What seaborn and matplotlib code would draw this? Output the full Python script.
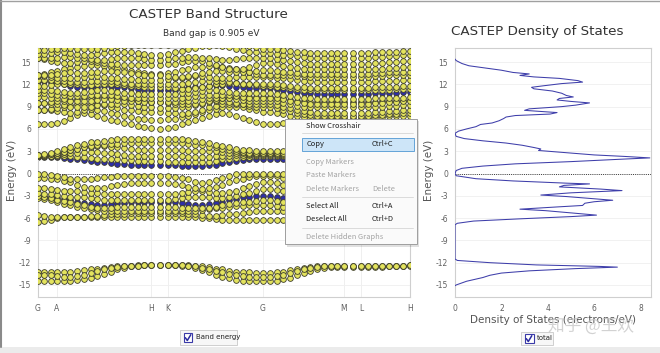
import numpy as np
import pandas as pd
import matplotlib
matplotlib.use("Agg")
import matplotlib.pyplot as plt
from matplotlib.patches import Rectangle
from matplotlib.lines import Line2D
import seaborn as sns

# ---- k-path ----
kpath_labels = ["G", "A", "H", "K", "G", "M", "L", "H"]
kpath_dist = [0, 19, 113, 130, 225, 306, 323, 372]
kpath_npts = [3, 14, 2, 14, 12, 2, 7]   # intervals per segment

# ---- bands (eV), 55 k-points each ----
lo1 = [-13.2,-13.2,-13.3,-13.3, -13.3,-13.2,-13.1,-13.0,-12.9,-12.8,-12.7,-12.6,-12.5,-12.4,-12.4,-12.3,-12.3,-12.3, -12.3,-12.3,
       -12.3,-12.3,-12.3,-12.4,-12.5,-12.6,-12.8,-12.9,-13.1,-13.2,-13.3,-13.3,-13.4,-13.4, -13.4,-13.3,-13.2,-13.0,-12.9,-12.7,-12.6,-12.5,-12.5,-12.4,-12.4,-12.4, -12.4,-12.5, -12.5,-12.5,-12.5,-12.4,-12.4,-12.4,-12.3]
lo2 = [-14.5,-14.5,-14.5,-14.5, -14.5,-14.4,-14.3,-14.2,-14.0,-13.8,-13.5,-13.2,-12.9,-12.7,-12.5,-12.4,-12.3,-12.3, -12.3,-12.3,
       -12.3,-12.4,-12.5,-12.7,-13.0,-13.3,-13.6,-13.9,-14.1,-14.3,-14.4,-14.5,-14.5,-14.5, -14.5,-14.4,-14.2,-14.0,-13.7,-13.4,-13.1,-12.9,-12.7,-12.6,-12.6,-12.6, -12.6,-12.6, -12.6,-12.6,-12.6,-12.5,-12.5,-12.4,-12.4]
lo3 = [-13.6,-13.6,-13.7,-13.8, -13.9,-13.9,-13.8,-13.6,-13.4,-13.1,-12.9,-12.7,-12.6,-12.5,-12.4,-12.4,-12.3,-12.3, -12.3,-12.3,
       -12.3,-12.3,-12.4,-12.5,-12.7,-12.9,-13.1,-13.3,-13.5,-13.7,-13.8,-13.9,-13.9,-13.9, -13.9,-13.8,-13.6,-13.4,-13.1,-12.9,-12.7,-12.6,-12.5,-12.5,-12.5,-12.5, -12.5,-12.5, -12.5,-12.5,-12.5,-12.4,-12.4,-12.4,-12.3]

vb1 = [-6.5,-6.4,-6.2,-6.0, -5.9,-5.9,-5.9,-5.9,-5.9,-5.9,-5.9,-5.9,-5.9,-5.9,-5.9,-5.9,-5.9,-5.9, -5.9,-5.9,
       -5.9,-5.9,-5.9,-5.9,-6.0,-6.0,-6.1,-6.2,-6.2,-6.3,-6.3,-6.3,-6.3,-6.3, -6.3,-6.3,-6.2,-6.2,-6.1,-6.0,-6.0,-6.0,-6.0,-6.0,-6.0,-6.0, -6.0,-6.0, -6.0,-6.0,-6.0,-6.0,-6.0,-6.0,-6.0]
vb2 = [-5.6,-5.7,-5.8,-5.9, -5.9,-5.9,-5.8,-5.8,-5.7,-5.7,-5.6,-5.5,-5.4,-5.4,-5.3,-5.3,-5.3,-5.3, -5.3,-5.3,
       -5.3,-5.3,-5.4,-5.5,-5.6,-5.7,-5.7,-5.6,-5.5,-5.4,-5.3,-5.2,-5.1,-5.0, -5.0,-5.0,-5.1,-5.2,-5.3,-5.4,-5.5,-5.6,-5.6,-5.6,-5.6,-5.6, -5.6,-5.6, -5.6,-5.6,-5.6,-5.6,-5.6,-5.6,-5.6]
vb3 = [-3.3,-3.4,-3.6,-3.8, -4.1,-4.3,-4.5,-4.7,-4.8,-4.9,-5.0,-5.0,-5.0,-5.0,-5.0,-5.0,-5.0,-5.0, -5.0,-5.0,
       -5.0,-5.0,-5.0,-5.0,-4.9,-4.8,-4.7,-4.6,-4.5,-4.4,-4.4,-4.3,-4.3,-4.3, -4.3,-4.4,-4.5,-4.7,-4.8,-4.9,-5.0,-5.0,-5.0,-5.0,-5.0,-5.0, -5.0,-5.0, -5.0,-5.0,-5.0,-5.0,-5.0,-5.0,-5.0]
vb4 = [-3.0,-3.1,-3.3,-3.5, -3.7,-3.9,-4.1,-4.3,-4.5,-4.6,-4.6,-4.6,-4.5,-4.5,-4.5,-4.5,-4.5,-4.5, -4.5,-4.5,
       -4.5,-4.6,-4.7,-4.7,-4.7,-4.6,-4.5,-4.3,-4.1,-4.0,-3.9,-3.8,-3.7,-3.6, -3.6,-3.7,-3.9,-4.1,-4.3,-4.5,-4.6,-4.7,-4.7,-4.7,-4.7,-4.7, -4.7,-4.7, -4.7,-4.6,-4.6,-4.6,-4.6,-4.6,-4.7]
vb5 = [-3.2,-3.2,-3.2,-3.3, -3.4,-3.6,-3.8,-4.0,-4.1,-4.2,-4.2,-4.1,-4.0,-4.0,-3.9,-3.9,-3.9,-3.9, -3.9,-3.9,
       -3.9,-4.0,-4.1,-4.2,-4.2,-4.1,-4.0,-3.8,-3.6,-3.4,-3.2,-3.1,-3.0,-3.0, -3.0,-3.1,-3.3,-3.5,-3.7,-3.9,-4.0,-4.1,-4.1,-4.1,-4.1,-4.1, -4.1,-4.1, -4.1,-4.0,-4.0,-3.9,-3.9,-4.0,-4.0]
vb6 = [-2.6,-2.7,-2.8,-2.9, -3.0,-3.1,-3.1,-3.2,-3.3,-3.4,-3.5,-3.5,-3.5,-3.5,-3.5,-3.5,-3.5,-3.5, -3.5,-3.5,
       -3.4,-3.3,-3.2,-3.1,-3.1,-3.2,-3.3,-3.3,-3.2,-3.0,-2.8,-2.6,-2.3,-2.1, -2.1,-2.2,-2.4,-2.6,-2.9,-3.1,-3.3,-3.4,-3.5,-3.5,-3.5,-3.5, -3.5,-3.5, -3.5,-3.4,-3.4,-3.3,-3.3,-3.4,-3.5]
vb7 = [-2.0,-2.0,-2.1,-2.2, -2.3,-2.3,-2.4,-2.5,-2.6,-2.6,-2.7,-2.7,-2.8,-2.8,-2.8,-2.8,-2.8,-2.8, -2.8,-2.8,
       -2.7,-2.6,-2.5,-2.4,-2.4,-2.5,-2.6,-2.6,-2.5,-2.3,-2.0,-1.7,-1.4,-1.2, -1.2,-1.3,-1.5,-1.8,-2.0,-2.2,-2.4,-2.6,-2.7,-2.8,-2.8,-2.8, -2.8,-2.8, -2.8,-2.8,-2.7,-2.7,-2.7,-2.8,-2.8]
vb8 = [-0.6,-0.6,-0.7,-0.8, -1.0,-1.2,-1.5,-1.8,-2.0,-2.0,-1.9,-1.7,-1.5,-1.4,-1.3,-1.3,-1.3,-1.3, -1.3,-1.3,
       -1.4,-1.6,-1.8,-2.0,-2.1,-2.0,-1.8,-1.5,-1.2,-0.9,-0.7,-0.5,-0.4,-0.3, -0.3,-0.4,-0.6,-0.8,-1.0,-1.2,-1.4,-1.6,-1.7,-1.8,-1.8,-1.8, -1.8,-1.8, -1.7,-1.6,-1.5,-1.4,-1.4,-1.3,-1.3]
vb9 = [0.0,-0.1,-0.2,-0.3, -0.5,-0.7,-0.8,-0.8,-0.7,-0.6,-0.5,-0.5,-0.4,-0.4,-0.4,-0.4,-0.4,-0.4, -0.4,-0.4,
       -0.5,-0.6,-0.8,-1.1,-1.3,-1.2,-0.9,-0.6,-0.3,-0.1,0.0,0.0,0.0,0.0, 0.0,0.0,0.0,-0.1,-0.2,-0.3,-0.4,-0.5,-0.6,-0.6,-0.7,-0.7, -0.7,-0.7, -0.6,-0.6,-0.5,-0.5,-0.5,-0.4,-0.4]

cb1 = [2.2,2.2,2.2,2.2, 2.1,2.0,1.9,1.8,1.7,1.6,1.5,1.4,1.3,1.3,1.2,1.2,1.2,1.2, 1.2,1.1,
       1.1,1.0,1.0,1.0,1.0,1.1,1.2,1.4,1.6,1.7,1.8,1.9,2.0,2.0, 2.0,2.0,2.0,2.0,2.0,2.0,2.0,2.0,2.0,2.0,2.0,2.0, 2.0,2.0, 2.0,2.0,2.0,2.0,2.0,2.0,2.0]
cb2 = [2.3,2.3,2.3,2.3, 2.3,2.3,2.2,2.2,2.1,2.0,2.0,1.9,1.9,1.8,1.8,1.7,1.7,1.7, 1.7,1.6,
       1.6,1.6,1.5,1.5,1.5,1.6,1.7,1.9,2.0,2.1,2.2,2.2,2.3,2.3, 2.3,2.3,2.3,2.3,2.3,2.3,2.3,2.3,2.3,2.3,2.3,2.3, 2.3,2.3, 2.3,2.3,2.3,2.3,2.3,2.3,2.3]
cb3 = [2.4,2.4,2.4,2.5, 2.6,2.7,2.8,2.9,2.9,2.9,2.8,2.7,2.6,2.5,2.4,2.3,2.3,2.3, 2.3,2.3,
       2.3,2.3,2.2,2.2,2.2,2.2,2.3,2.4,2.4,2.5,2.5,2.5,2.5,2.5, 2.5,2.5,2.5,2.5,2.5,2.5,2.5,2.5,2.5,2.5,2.5,2.5, 2.5,2.5, 2.5,2.5,2.5,2.5,2.5,2.5,2.5]
cb4 = [2.5,2.5,2.6,2.7, 2.9,3.1,3.3,3.5,3.6,3.7,3.7,3.6,3.5,3.4,3.3,3.2,3.1,3.1, 3.1,3.1,
       3.1,3.1,3.0,3.0,3.0,3.0,3.0,2.9,2.8,2.7,2.7,2.6,2.6,2.6, 2.6,2.6,2.6,2.6,2.6,2.6,2.6,2.6,2.6,2.6,2.6,2.6, 2.6,2.6, 2.6,2.6,2.6,2.6,2.6,2.6,2.6]
cb5 = [2.5,2.5,2.6,2.7, 2.9,3.1,3.3,3.5,3.7,3.8,3.9,4.0,4.0,4.1,4.1,4.1,4.1,4.1, 4.1,4.1,
       4.1,4.1,4.0,3.9,3.8,3.6,3.5,3.3,3.1,3.0,2.9,2.8,2.8,2.8, 2.8,2.8,2.8,2.8,2.8,2.8,2.8,2.8,2.8,2.8,2.8,2.8, 2.8,2.8, 2.8,2.8,2.8,2.8,2.8,2.8,2.8]
cb6 = [2.5,2.6,2.8,3.0, 3.3,3.6,3.8,4.0,4.2,4.3,4.4,4.5,4.6,4.6,4.6,4.6,4.6,4.6, 4.6,4.6,
       4.6,4.6,4.5,4.4,4.3,4.1,3.9,3.7,3.5,3.3,3.2,3.1,3.0,3.0, 3.0,3.0,3.0,3.0,3.0,3.0,3.0,3.0,3.0,3.0,3.0,3.0, 3.0,3.0, 3.0,3.0,3.0,3.0,3.0,3.0,3.0]

ub1 = [6.6,6.6,6.7,6.8, 7.1,7.5,7.9,8.1,8.0,7.8,7.5,7.2,7.0,6.8,6.6,6.4,6.2,6.1, 6.0,6.1,
       6.3,6.6,6.9,7.2,7.5,7.8,8.0,8.1,8.0,7.8,7.5,7.2,6.9,6.7, 6.7,6.7,6.8,6.9,7.0,7.0,7.0,7.0,7.0,7.0,7.0,7.0, 7.0,7.0, 7.0,7.0,7.0,6.9,6.9,6.8,6.8]
ub2 = [8.6,8.6,8.5,8.4, 8.3,8.2,8.3,8.5,8.7,8.6,8.4,8.2,8.0,7.8,7.6,7.4,7.3,7.2, 7.2,7.3,
       7.4,7.6,7.8,8.0,8.3,8.5,8.7,8.9,9.0,9.0,8.9,8.7,8.5,8.3, 8.3,8.2,8.0,7.8,7.7,7.6,7.5,7.5,7.5,7.5,7.5,7.5, 7.5,7.5, 7.5,7.6,7.6,7.7,7.7,7.8,7.8]
ub3 = [8.6,8.6,8.7,8.8, 9.0,9.2,9.3,9.4,9.4,9.3,9.2,9.0,8.8,8.6,8.5,8.4,8.3,8.3, 8.3,8.2,
       8.1,8.0,8.1,8.3,8.6,8.9,9.1,9.3,9.4,9.4,9.3,9.1,9.0,8.9, 8.9,8.8,8.6,8.4,8.2,8.0,7.9,7.8,7.8,7.8,7.8,7.8, 7.8,7.8, 7.8,7.9,7.9,8.0,8.0,8.1,8.1]
ub4 = [9.5,9.5,9.4,9.3, 9.2,9.0,8.9,8.9,9.0,9.2,9.3,9.4,9.4,9.3,9.2,9.1,9.0,8.9, 8.8,8.8,
       8.8,8.9,9.0,9.2,9.4,9.6,9.7,9.7,9.6,9.5,9.4,9.3,9.3,9.3, 9.3,9.2,9.0,8.8,8.6,8.4,8.3,8.2,8.2,8.2,8.2,8.2, 8.2,8.2, 8.2,8.3,8.3,8.4,8.4,8.5,8.5]
ub5 = [9.5,9.5,9.6,9.7, 9.8,9.9,10.0,10.1,10.2,10.3,10.3,10.2,10.1,10.0,9.9,9.8,9.7,9.6, 9.6,9.5,
       9.4,9.3,9.3,9.4,9.5,9.7,9.9,10.1,10.2,10.3,10.3,10.3,10.3,10.3, 10.3,10.2,10.1,9.9,9.8,9.7,9.6,9.6,9.6,9.6,9.6,9.6, 9.6,9.6, 9.6,9.6,9.7,9.7,9.8,9.8,9.9]
ub6 = [10.3,10.3,10.2,10.1, 10.0,9.8,9.7,9.7,9.8,9.9,10.0,10.0,9.9,9.8,9.7,9.7,9.6,9.6, 9.6,9.6,
       9.6,9.7,9.8,9.9,10.0,10.1,10.2,10.2,10.1,10.0,9.9,9.8,9.8,9.8, 9.8,9.7,9.5,9.3,9.1,9.0,8.9,8.9,8.9,8.9,8.9,8.9, 8.9,8.9, 8.9,9.0,9.0,9.1,9.1,9.2,9.2]
ub7 = [10.8,10.8,10.7,10.6, 10.5,10.4,10.4,10.4,10.5,10.6,10.6,10.5,10.4,10.3,10.2,10.2,10.1,10.1, 10.1,10.1,
       10.1,10.2,10.3,10.4,10.5,10.6,10.6,10.6,10.5,10.4,10.3,10.2,10.2,10.2, 10.2,10.1,10.0,9.8,9.6,9.5,9.4,9.4,9.4,9.4,9.4,9.4, 9.4,9.4, 9.4,9.5,9.5,9.6,9.6,9.7,9.7]
ub8 = [11.3,11.3,11.2,11.1, 11.0,10.9,10.9,11.0,11.1,11.2,11.2,11.1,11.0,10.9,10.8,10.7,10.7,10.7, 10.7,10.7,
       10.7,10.8,10.9,11.0,11.1,11.2,11.2,11.1,11.0,10.9,10.8,10.8,10.8,10.8, 10.8,10.7,10.6,10.4,10.3,10.2,10.1,10.0,10.0,10.0,10.0,10.0, 10.0,10.0, 10.0,10.1,10.1,10.2,10.2,10.2,10.3]
ub9 = [12.4,12.4,12.3,12.2, 12.0,11.8,11.7,11.6,11.6,11.7,11.8,11.8,11.7,11.6,11.5,11.4,11.3,11.3, 11.3,11.3,
       11.3,11.4,11.5,11.6,11.7,11.8,11.9,11.9,11.8,11.7,11.6,11.5,11.5,11.5, 11.5,11.4,11.2,11.1,11.0,10.9,10.8,10.7,10.7,10.7,10.7,10.7, 10.7,10.7, 10.7,10.8,10.8,10.9,10.9,11.0,11.0]
ub10 = [11.8,11.8,11.9,12.0, 12.1,12.1,12.0,11.9,11.9,12.0,12.1,12.1,12.0,11.9,11.8,11.8,11.7,11.7, 11.7,11.6,
        11.5,11.4,11.4,11.5,11.6,11.8,12.0,12.1,12.2,12.2,12.1,12.0,11.9,11.8, 11.8,11.7,11.6,11.5,11.4,11.3,11.2,11.2,11.2,11.2,11.2,11.2, 11.2,11.2, 11.2,11.3,11.3,11.3,11.4,11.4,11.4]
ub11 = [12.6,12.6,12.6,12.5, 12.4,12.3,12.3,12.3,12.4,12.5,12.5,12.4,12.3,12.2,12.1,12.0,12.0,12.0, 12.0,12.0,
        12.0,12.1,12.2,12.3,12.4,12.5,12.5,12.4,12.3,12.2,12.1,12.1,12.1,12.1, 12.1,12.0,11.9,11.8,11.7,11.6,11.5,11.5,11.5,11.5,11.5,11.5, 11.5,11.5, 11.5,11.6,11.6,11.7,11.7,11.8,11.8]
ub12 = [13.1,13.1,13.0,12.9, 12.8,12.8,12.9,13.0,13.1,13.1,13.0,12.9,12.8,12.7,12.7,12.6,12.6,12.6, 12.6,12.7,
        12.8,12.9,13.0,13.1,13.1,13.0,12.9,12.9,12.9,13.0,13.0,13.0,13.0,13.0, 13.0,12.9,12.8,12.7,12.6,12.5,12.4,12.3,12.3,12.3,12.3,12.3, 12.3,12.3, 12.3,12.4,12.4,12.5,12.5,12.6,12.6]
ub13 = [13.3,13.4,13.6,13.8, 14.0,14.2,14.4,14.5,14.6,14.6,14.5,14.4,14.2,14.0,13.8,13.6,13.5,13.4, 13.4,13.5,
        13.7,13.9,14.1,14.3,14.4,14.5,14.5,14.4,14.2,14.0,13.8,13.6,13.4,13.3, 13.3,13.3,13.2,13.2,13.1,13.1,13.0,13.0,13.0,13.0,13.0,13.0, 13.0,13.0, 13.0,13.1,13.1,13.2,13.2,13.3,13.3]
ub14 = [13.3,13.3,13.3,13.4, 13.5,13.6,13.5,13.5,13.6,13.7,13.8,13.8,13.7,13.6,13.5,13.4,13.3,13.2, 13.2,13.1,
        13.0,13.0,13.1,13.3,13.5,13.7,13.8,13.8,13.7,13.6,13.6,13.7,13.8,13.9, 13.9,13.8,13.7,13.6,13.5,13.4,13.4,13.4,13.4,13.4,13.4,13.4, 13.4,13.4, 13.4,13.5,13.5,13.6,13.6,13.7,13.7]
ub15 = [15.5,15.4,15.2,15.0, 14.9,14.9,15.0,15.1,15.1,15.0,14.9,14.8,14.7,14.6,14.6,14.6,14.6,14.6, 14.6,14.7,
        14.8,15.0,15.1,15.2,15.1,14.9,14.6,14.3,14.1,14.0,14.1,14.3,14.6,14.9, 14.9,14.7,14.5,14.3,14.2,14.1,14.0,14.0,14.0,14.0,14.0,14.0, 14.0,14.0, 14.0,14.1,14.1,14.2,14.2,14.3,14.3]
ub16 = [15.5,15.5,15.5,15.6, 15.7,15.7,15.6,15.5,15.4,15.3,15.3,15.4,15.5,15.6,15.6,15.5,15.4,15.3, 15.3,15.4,
        15.5,15.6,15.7,15.7,15.6,15.5,15.4,15.3,15.3,15.4,15.5,15.6,15.6,15.5, 15.5,15.4,15.3,15.1,15.0,14.9,14.8,14.8,14.8,14.8,14.8,14.8, 14.8,14.8, 14.8,14.9,14.9,15.0,15.0,15.1,15.1]
ub17 = [16.1,16.1,16.2,16.3, 16.3,16.2,16.1,16.0,16.0,16.1,16.2,16.3,16.4,16.4,16.3,16.2,16.1,16.0, 16.0,16.1,
        16.3,16.5,16.7,16.9,17.1,17.2,17.3,17.2,17.0,16.8,16.6,16.4,16.3,16.2, 16.2,16.1,16.0,15.9,15.8,15.7,15.6,15.6,15.6,15.6,15.6,15.6, 15.6,15.6, 15.6,15.7,15.7,15.8,15.8,15.9,15.9]
ub18 = [16.6,16.6,16.7,16.8, 16.9,16.9,16.8,16.7,16.7,16.8,16.9,17.0,17.1,17.2,17.3,17.3,17.3,17.3, 17.3,17.3,
        17.4,17.5,17.6,17.7,17.8,17.8,17.8,17.7,17.6,17.5,17.4,17.2,17.0,16.8, 16.8,16.7,16.6,16.5,16.4,16.3,16.2,16.2,16.2,16.2,16.2,16.2, 16.2,16.2, 16.2,16.3,16.3,16.4,16.4,16.5,16.5]

yellow_bands = [lo1, lo2, lo3, vb1, vb2, vb3, vb4, vb6, vb7, vb8, vb9, cb2, cb3, cb4, cb5, cb6,
                ub1, ub2, ub3, ub4, ub5, ub6, ub7, ub8, ub10, ub11, ub12, ub13, ub14, ub15, ub16, ub17, ub18]
blue_bands = [vb5, cb1, ub9]   # second set, drawn underneath

# ---- total DOS ----
dos_energy = [15.4, 15.2, 14.8, 14.5, 14.2, 13.9, 13.6, 13.4, 13.2, 13.0, 12.8, 12.5, 12.3, 12.1, 11.8,
              11.6, 11.4, 11.1, 10.8, 10.5, 10.3, 10.1, 9.9, 9.7, 9.5, 9.2, 9.0, 8.7, 8.5, 8.2,
              8.0, 7.8, 7.6, 7.4, 7.1, 6.8, 6.6, 6.3, 6.0, 5.7, 5.4, 5.0, 4.7, 4.4, 4.1,
              3.8, 3.5, 3.3, 3.1, 2.8, 2.5, 2.3, 2.1, 1.9, 1.6, 1.3, 1.0, 0.7, 0.4, 0.0,
              -0.3, -0.7, -1.0, -1.3, -1.4, -1.6, -1.8, -2.1, -2.3, -2.6, -2.9, -3.1, -3.3, -3.6, -3.8,
              -4.0, -4.3, -4.5, -4.8, -5.0, -5.3, -5.6, -5.8, -6.1, -6.4, -6.7, -6.9, -11.5, -11.7, -12.0,
              -12.3, -12.5, -12.6, -12.8, -13.1, -13.4, -13.7, -14.0, -14.5, -15.0, -15.1]
dos_total = [0.0, 0.05, 0.3, 0.6, 1.3, 2.0, 2.5, 3.2, 2.8, 3.4, 4.5, 5.3, 5.5, 4.6, 3.8,
             3.3, 3.4, 4.2, 4.6, 4.8, 5.1, 4.5, 4.4, 5.0, 5.8, 5.2, 4.6, 3.2, 3.0, 4.4,
             4.1, 2.6, 2.2, 2.1, 1.9, 1.6, 1.1, 0.9, 0.5, 0.15, 0.0, 0.05, 0.4, 1.2, 2.2,
             2.9, 3.4, 3.7, 3.6, 4.8, 6.0, 7.3, 8.4, 7.0, 5.0, 2.6, 1.2, 0.3, 0.05, 0.0,
             0.05, 0.9, 2.5, 4.8, 5.8, 4.7, 4.5, 6.3, 7.2, 5.0, 3.7, 4.8, 5.6, 6.8, 6.0,
             5.6, 5.5, 4.4, 2.8, 3.9, 5.0, 6.1, 5.0, 2.8, 0.8, 0.1, 0.0, 0.0, 0.1, 1.5,
             3.5, 6.2, 7.0, 5.2, 3.2, 2.0, 1.5, 1.2, 0.5, 0.05, 0.0]

energy_ticks = [-15, -12, -9, -6, -3, 0, 3, 6, 9, 12, 15]
dos_ticks = [0, 2, 4, 6, 8]

# k distance of every point along the path
k = [kpath_dist[0]]
for a, b, n in zip(kpath_dist[:-1], kpath_dist[1:], kpath_npts):
    k += list(np.linspace(a, b, n + 1)[1:])


def long_form(bands):
    frames = [pd.DataFrame({"k": k, "energy": b, "band": i}) for i, b in enumerate(bands)]
    return pd.concat(frames, ignore_index=True)


df_yellow = long_form(yellow_bands)
df_blue = long_form(blue_bands)

sns.set_style("white")
plt.rcParams["axes.unicode_minus"] = False
plt.rcParams["font.family"] = ["DejaVu Sans"]

W, H = 660, 353
fig = plt.figure(figsize=(W / 100, H / 100), dpi=100)


def fx(x):
    return x / W


def fy(y):
    return 1 - y / H


def rect(x0, y0, x1, y1, **kw):
    r = Rectangle((fx(x0), fy(y1)), (x1 - x0) / W, (y1 - y0) / H, transform=fig.transFigure, **kw)
    fig.add_artist(r)


def style_axes(ax):
    for s in ax.spines.values():
        s.set_color("#cfcfcf")
        s.set_linewidth(0.8)
    ax.tick_params(axis="both", labelsize=5.5, labelcolor="#606060", color="#cfcfcf")
    ax.tick_params(axis="y", length=2, width=0.6, pad=3)
    ax.tick_params(axis="x", length=0, pad=5)
    ax.set_yticks(energy_ticks)
    ax.set_ylim(-16.62, 16.89)
    ax.grid(True, axis="y", color="#efefef", lw=0.6)
    ax.set_xlabel("")
    ax.set_ylabel("")
    ax.axhline(0, color="#3c3c3c", lw=0.7, ls=(0, (1, 1.2)), zorder=2)


# ---- band structure ----
ax_bs = fig.add_axes([fx(38), fy(297), (410 - 38) / W, (297 - 48) / H])
sns.scatterplot(data=df_blue, x="k", y="energy", ax=ax_bs, s=17, color="#2e2ea6",
                edgecolor="#3d3d2a", linewidth=0.6, legend=False, zorder=2.5)
sns.scatterplot(data=df_yellow, x="k", y="energy", ax=ax_bs, s=17, color="#e3e35e",
                edgecolor="#3d3d2a", linewidth=0.6, legend=False, zorder=3)
style_axes(ax_bs)
ax_bs.set_xlim(kpath_dist[0], kpath_dist[-1])
ax_bs.set_xticks(kpath_dist, kpath_labels)
for kd in kpath_dist:
    ax_bs.axvline(kd, color="#ededed", lw=0.6, zorder=0)

# ---- DOS ----
ax_dos = fig.add_axes([fx(455), fy(297), (651 - 455) / W, (297 - 48) / H])
sns.lineplot(x=dos_total, y=dos_energy, sort=False, estimator=None, ax=ax_dos,
             color="#3e3eaa", linewidth=0.75, zorder=3)
style_axes(ax_dos)
ax_dos.set_xlim(0, 8.45)
ax_dos.set_xticks(dos_ticks)

# ---- titles and labels ----
fig.text(fx(208), fy(15), "CASTEP Band Structure", ha="center", va="center", fontsize=9.7, color="#333333")
fig.text(fx(211), fy(34), "Band gap is 0.905 eV", ha="center", va="center", fontsize=6.5, color="#333333")
fig.text(fx(537), fy(31), "CASTEP Density of States", ha="center", va="center", fontsize=9.7, color="#333333")
fig.text(fx(12), fy(170), "Energy (eV)", rotation=90, ha="center", va="center", fontsize=7.5, color="#555555")
fig.text(fx(429), fy(170), "Energy (eV)", rotation=90, ha="center", va="center", fontsize=7.5, color="#555555")
fig.text(fx(553), fy(320), "Density of States (electrons/eV)", ha="center", va="center", fontsize=7.5, color="#555555")

# ---- checkbox legends ----
def checkbox(x0, x1, y0, y1, label):
    rect(x0, y0, x1, y1, facecolor="#f7f7f7", edgecolor="#cfcfcf", lw=0.7)
    bx, by = x0 + 3.5, (y0 + y1) / 2
    rect(bx, by - 4.5, bx + 9, by + 4.5, facecolor="white", edgecolor="#3a3aa8", lw=0.8)
    fig.add_artist(Line2D([fx(bx + 1.8), fx(bx + 3.8), fx(bx + 7.3)],
                          [fy(by + 0.2), fy(by + 3), fy(by - 2.8)],
                          transform=fig.transFigure, color="#2b2ba0", lw=1.1))
    fig.text(fx(bx + 12), fy(by), label, ha="left", va="center", fontsize=5, color="#222222")


checkbox(180, 237, 330, 345, "Band energy")
checkbox(521, 553, 332, 345, "total")

# watermark (lies over the axis label, as in the screenshot)
fig.text(fx(591), fy(326), "知乎 @王欢", ha="center", va="center", fontsize=12,
         family=["Noto Sans CJK SC", "DejaVu Sans"], color="#c4c4c4", alpha=0.75)

# ---- context menu ----
menu_font = ["Noto Sans CJK SC", "DejaVu Sans"]
rect(287, 121, 419, 247, facecolor="#000000", alpha=0.12, edgecolor="none", zorder=5)
rect(285, 119, 416.5, 244, facecolor="#fafafa", edgecolor="#9e9e9e", lw=0.7, zorder=6)
rect(301.5, 137.5, 413.5, 150.5, facecolor="#cde5f8", edgecolor="#64a3d8", lw=0.7, zorder=7)
for ys in [133.5, 197, 227.5]:
    fig.add_artist(Line2D([fx(302), fx(413)], [fy(ys), fy(ys)], transform=fig.transFigure,
                          color="#d6d6d6", lw=0.6, zorder=7))
menu_items = [("Show Crosshair", "", 126.5, True), ("Copy", "Ctrl+C", 144, True),
              ("Copy Markers", "", 161.5, False), ("Paste Markers", "", 175, False),
              ("Delete Markers", "Delete", 189, False), ("Select All", "Ctrl+A", 206, True),
              ("Deselect All", "Ctrl+D", 219, True), ("Delete Hidden Graphs", "", 237, False)]
for label, shortcut, yy, enabled in menu_items:
    c = "#1e1e1e" if enabled else "#a3a3a3"
    fig.text(fx(306.5), fy(yy), label, ha="left", va="center", fontsize=5.4, color=c,
             family=menu_font, zorder=8)
    if shortcut:
        fig.text(fx(372), fy(yy), shortcut, ha="left", va="center", fontsize=5.4, color=c,
                 family=menu_font, zorder=8)

# ---- window frame ----
rect(0, 347, 660, 353, facecolor="#ebebeb", edgecolor="none")
fig.add_artist(Line2D([fx(1), fx(1)], [fy(0), fy(347)], transform=fig.transFigure, color="#8a8a8a", lw=1.5))
fig.add_artist(Line2D([fx(0), fx(660)], [fy(0.5), fy(0.5)], transform=fig.transFigure, color="#a0a0a0", lw=1.0))

fig.savefig("out.png", dpi=100)
